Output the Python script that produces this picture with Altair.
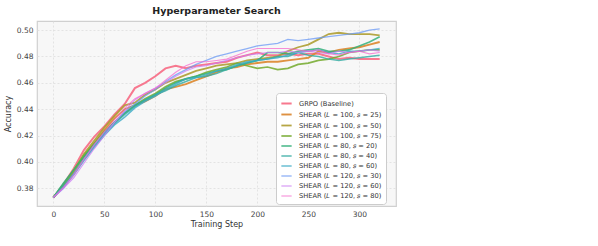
import altair as alt
import pandas as pd

steps = list(range(0, 321, 10))

labels = [
    "GRPO (Baseline)",
    "SHEAR (𝐿 = 100, 𝑠 = 25)",
    "SHEAR (𝐿 = 100, 𝑠 = 50)",
    "SHEAR (𝐿 = 100, 𝑠 = 75)",
    "SHEAR (𝐿 = 80, 𝑠 = 20)",
    "SHEAR (𝐿 = 80, 𝑠 = 40)",
    "SHEAR (𝐿 = 80, 𝑠 = 60)",
    "SHEAR (𝐿 = 120, 𝑠 = 30)",
    "SHEAR (𝐿 = 120, 𝑠 = 60)",
    "SHEAR (𝐿 = 120, 𝑠 = 80)",
]
colors = ["#f77189", "#dc8932", "#ae9d31", "#77ab31", "#33b07a",
          "#36ada4", "#38a9c5", "#6e9bf4", "#cc7af4", "#f565cc"]

grpo = [0.373, 0.383, 0.395, 0.409, 0.419, 0.427, 0.436, 0.444, 0.456, 0.460, 0.465,
        0.471, 0.473, 0.471, 0.473, 0.474, 0.475, 0.476, 0.479, 0.481, 0.483, 0.481,
        0.481, 0.482, 0.481, 0.482, 0.482, 0.480, 0.478, 0.479, 0.478, 0.478, 0.478]
l100_s25 = [0.373, 0.382, 0.392, 0.404, 0.414, 0.424, 0.433, 0.440, 0.443, 0.446, 0.450,
            0.455, 0.457, 0.459, 0.462, 0.465, 0.468, 0.471, 0.472, 0.474, 0.475, 0.476,
            0.476, 0.477, 0.478, 0.479, 0.484, 0.483, 0.485, 0.486, 0.487, 0.489, 0.491]
l100_s50 = [0.373, 0.382, 0.393, 0.406, 0.416, 0.426, 0.435, 0.443, 0.445, 0.451, 0.455,
            0.460, 0.463, 0.466, 0.469, 0.471, 0.473, 0.474, 0.475, 0.477, 0.478, 0.479,
            0.480, 0.484, 0.487, 0.489, 0.493, 0.497, 0.498, 0.497, 0.497, 0.497, 0.496]
l100_s75 = [0.373, 0.383, 0.394, 0.405, 0.414, 0.423, 0.430, 0.437, 0.443, 0.448, 0.452,
            0.457, 0.461, 0.463, 0.465, 0.468, 0.470, 0.472, 0.475, 0.473, 0.471, 0.472,
            0.470, 0.471, 0.474, 0.475, 0.477, 0.478, 0.480, 0.483, 0.484, 0.485, 0.485]
l80_s20 = [0.373, 0.384, 0.394, 0.404, 0.413, 0.422, 0.430, 0.437, 0.443, 0.447, 0.451,
           0.456, 0.460, 0.463, 0.465, 0.467, 0.469, 0.470, 0.473, 0.475, 0.477, 0.483,
           0.483, 0.482, 0.484, 0.485, 0.486, 0.484, 0.484, 0.485, 0.488, 0.491, 0.495]
l80_s40 = [0.373, 0.382, 0.391, 0.402, 0.412, 0.421, 0.429, 0.436, 0.442, 0.447, 0.451,
           0.454, 0.458, 0.461, 0.464, 0.465, 0.467, 0.470, 0.473, 0.475, 0.477, 0.478,
           0.480, 0.480, 0.483, 0.481, 0.480, 0.478, 0.477, 0.478, 0.479, 0.480, 0.481]
l80_s60 = [0.373, 0.381, 0.390, 0.401, 0.411, 0.420, 0.428, 0.434, 0.441, 0.446, 0.450,
           0.455, 0.459, 0.463, 0.464, 0.466, 0.469, 0.471, 0.474, 0.476, 0.477, 0.478,
           0.479, 0.481, 0.483, 0.484, 0.485, 0.483, 0.482, 0.484, 0.484, 0.485, 0.486]
l120_s30 = [0.373, 0.380, 0.391, 0.402, 0.413, 0.422, 0.430, 0.438, 0.444, 0.450, 0.455,
            0.461, 0.466, 0.470, 0.474, 0.477, 0.480, 0.482, 0.484, 0.486, 0.488, 0.489,
            0.490, 0.493, 0.492, 0.493, 0.494, 0.495, 0.496, 0.497, 0.498, 0.500, 0.501]
l120_s60 = [0.373, 0.380, 0.388, 0.399, 0.410, 0.420, 0.430, 0.439, 0.447, 0.452, 0.456,
            0.460, 0.465, 0.469, 0.472, 0.473, 0.475, 0.477, 0.479, 0.481, 0.482, 0.483,
            0.483, 0.484, 0.483, 0.484, 0.483, 0.482, 0.484, 0.483, 0.484, 0.485, 0.484]
l120_s80 = [0.373, 0.381, 0.390, 0.402, 0.413, 0.423, 0.432, 0.441, 0.448, 0.452, 0.456,
            0.462, 0.468, 0.473, 0.476, 0.476, 0.477, 0.478, 0.481, 0.484, 0.486, 0.486,
            0.486, 0.486, 0.485, 0.484, 0.485, 0.482, 0.481, 0.483, 0.484, 0.482, 0.483]

series = [grpo, l100_s25, l100_s50, l100_s75, l80_s20, l80_s40, l80_s60,
          l120_s30, l120_s60, l120_s80]

rows = []
for lab, vals in zip(labels, series):
    for s, v in zip(steps, vals):
        rows.append({"step": s, "acc": v, "run": lab})
df = pd.DataFrame(rows)

widths = [2.0] + [1.1] * 9
opac = [0.95] + [0.72] * 9

FONT = "DejaVu Sans"
leg = alt.Legend(title=None, orient="none", legendX=239, legendY=72)

chart = alt.Chart(df).mark_line(clip=True).encode(
    x=alt.X("step:Q", title="Training Step",
            scale=alt.Scale(domain=[-16, 336], nice=False, zero=False),
            axis=alt.Axis(values=[0, 50, 100, 150, 200, 250, 300], titlePadding=3)),
    y=alt.Y("acc:Q", title="Accuracy",
            scale=alt.Scale(domain=[0.3666, 0.5069], nice=False, zero=False),
            axis=alt.Axis(values=[0.38, 0.40, 0.42, 0.44, 0.46, 0.48, 0.50],
                          format=".2f", titlePadding=4)),
    color=alt.Color("run:N", sort=labels,
                    scale=alt.Scale(domain=labels, range=colors), legend=leg),
    strokeWidth=alt.StrokeWidth("run:N", sort=labels,
                                scale=alt.Scale(domain=labels, range=widths), legend=leg),
    opacity=alt.Opacity("run:N", sort=labels,
                        scale=alt.Scale(domain=labels, range=opac), legend=leg),
    detail="run:N",
    order=alt.Order("step:Q"),
).properties(
    width=359, height=185,
    title=alt.TitleParams("Hyperparameter Search", fontSize=9.5, fontWeight="bold",
                          font=FONT, color="#222222", anchor="middle", offset=6),
    autosize=alt.AutoSizeParams(type="none"),
    padding={"left": 37, "top": 21, "right": 202, "bottom": 40},
).configure_view(
    fill="#f7f7f7", stroke="#d0d0d0", strokeWidth=1.2,
).configure_axis(
    labelFont=FONT, labelFontSize=7.5, labelColor="#444444", labelPadding=4,
    titleFont=FONT, titleFontSize=8, titleColor="#333333", titleFontWeight="normal",
    domain=False, ticks=False,
    grid=True, gridColor="#dddddd", gridDash=[2, 2], gridWidth=0.8,
).configure_legend(
    labelFont=FONT, labelFontSize=6.7, labelColor="#333333",
    symbolType="stroke", symbolSize=106, labelOffset=6,
    fillColor="#ffffff", strokeColor="#cccccc", cornerRadius=3, padding=4,
    rowPadding=0, labelLimit=200,
)

chart.save("out.html", embed_options={"renderer": "svg", "actions": False})
